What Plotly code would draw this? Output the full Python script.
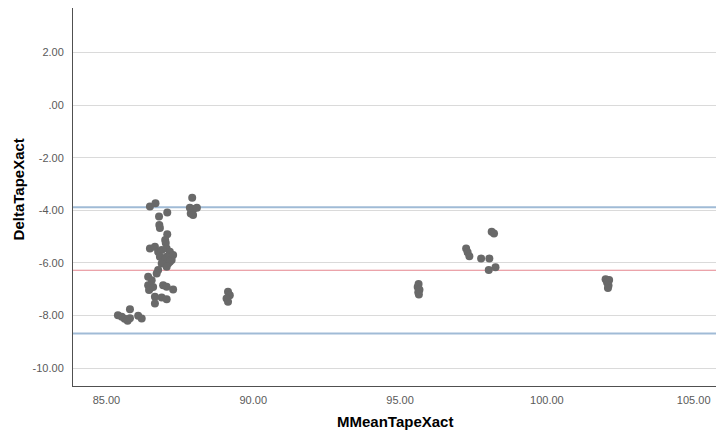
import plotly.graph_objects as go

# Bland-Altman style data: mean (x) and difference (y)
mean_tape = [
    86.48, 86.67, 87.92, 87.84, 87.96, 88.08, 87.87, 87.95,
    86.79, 87.07, 86.80, 86.82, 87.07, 87.00, 87.02,
    86.48, 86.65, 86.76, 86.88, 87.05, 87.16, 87.27, 87.05, 86.82, 87.22, 86.93, 87.10,
    86.99, 87.16, 86.88, 87.05, 86.76, 86.71, 86.42, 86.54,
    86.42, 86.50, 86.45, 86.59, 86.93, 87.05, 87.27,
    86.65, 86.88, 87.05, 86.65,
    85.80, 85.39, 85.52, 85.62, 85.72, 85.80, 86.08, 86.20,
    89.14, 89.20, 89.09, 89.14,
    95.63, 95.60, 95.66, 95.62, 95.64,
    97.25, 97.30, 97.36, 97.76, 98.04, 98.12, 98.20, 98.02, 98.25,
    102.00, 102.12, 102.05, 102.10, 102.08,
]
delta_tape = [
    -3.86, -3.73, -3.52, -3.90, -3.95, -3.90, -4.12, -4.18,
    -4.24, -4.08, -4.56, -4.67, -4.91, -5.13, -5.24,
    -5.45, -5.39, -5.58, -5.51, -5.45, -5.58, -5.70, -5.77, -5.77, -5.89, -5.96, -6.02,
    -5.89, -5.96, -6.02, -6.15, -6.27, -6.40, -6.53, -6.66,
    -6.85, -6.95, -7.03, -6.92, -6.85, -6.91, -7.01,
    -7.29, -7.32, -7.38, -7.54,
    -7.76, -7.99, -8.05, -8.12, -8.20, -8.10, -8.01, -8.11,
    -7.10, -7.23, -7.35, -7.48,
    -6.80, -6.92, -7.02, -7.12, -7.20,
    -5.45, -5.60, -5.75, -5.83, -5.83, -4.82, -4.88, -6.27, -6.17,
    -6.62, -6.65, -6.75, -6.86, -6.95,
]

mean_diff = -6.28
upper_loa = -3.88
lower_loa = -8.68

x_ticks = [85, 90, 95, 100, 105]
x_tick_text = ["85.00", "90.00", "95.00", "100.00", "105.00"]
y_ticks = [2, 0, -2, -4, -6, -8, -10]
y_tick_text = ["2.00", ".00", "-2.00", "-4.00", "-6.00", "-8.00", "-10.00"]

x_title = "MMeanTapeXact"
y_title = "DeltaTapeXact"

fig = go.Figure()

fig.add_trace(go.Scatter(
    x=mean_tape, y=delta_tape, mode="markers",
    marker=dict(size=8, color="rgb(105,105,105)", line=dict(width=0)),
    showlegend=False, hoverinfo="x+y",
))

for val, col, w in [(upper_loa, "rgba(150,180,210,0.9)", 2),
                    (lower_loa, "rgba(150,180,210,0.9)", 2),
                    (mean_diff, "rgba(225,120,130,0.9)", 1)]:
    fig.add_shape(type="line", xref="paper", yref="y", x0=0, x1=1, y0=val, y1=val,
                  line=dict(color=col, width=w), layer="below")

font_fam = "Liberation Sans Narrow, Liberation Sans, Arial, sans-serif"

fig.add_annotation(text="<b>" + x_title + "</b>", xref="paper", yref="paper",
                   x=0.5, y=0, yshift=-35, showarrow=False, xanchor="center", yanchor="middle",
                   font=dict(family=font_fam, size=15, color="black"))
fig.add_annotation(text="<b>" + y_title + "</b>", xref="paper", yref="paper",
                   x=0, y=0.52, xshift=-55, showarrow=False, xanchor="center", yanchor="middle",
                   textangle=-90, font=dict(family=font_fam, size=15, color="black"))

fig.update_layout(
    width=718, height=436,
    margin=dict(l=73, r=2, t=8, b=50, autoexpand=False),
    paper_bgcolor="white", plot_bgcolor="white",
    font=dict(family="Liberation Sans, Arial, sans-serif", size=11, color="rgb(90,90,90)"),
    xaxis=dict(
        range=[83.86, 105.76], tickvals=x_ticks, ticktext=x_tick_text,
        showgrid=False, zeroline=False, showline=True, linecolor="rgb(80,80,80)", linewidth=1,
        ticks="", ticklabelstandoff=4, automargin=False,
    ),
    yaxis=dict(
        range=[-10.68, 3.69], tickvals=y_ticks, ticktext=y_tick_text,
        showgrid=True, gridcolor="rgb(218,218,218)", gridwidth=1,
        zeroline=False, showline=True, linecolor="rgb(80,80,80)", linewidth=1,
        ticks="", ticklabelstandoff=6, automargin=False,
    ),
)

fig.write_html("out.html", config={"displayModeBar": False},
               post_script="document.body.style.margin='0';document.body.style.overflow='hidden';")
